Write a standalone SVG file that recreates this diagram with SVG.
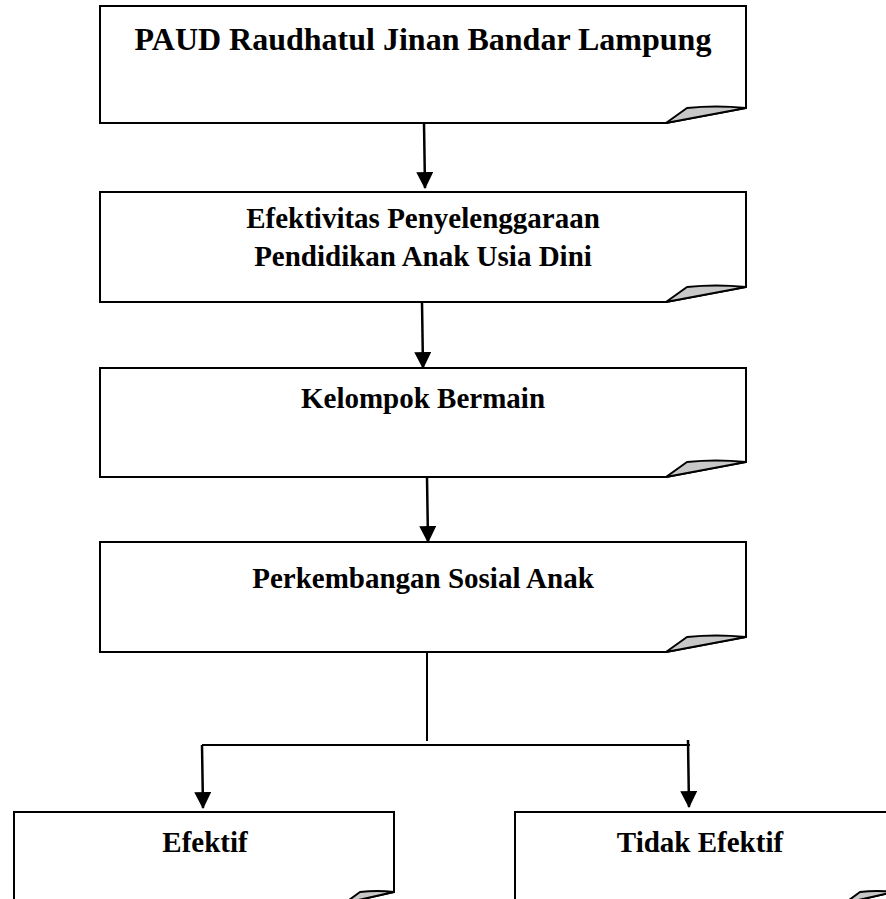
<svg xmlns="http://www.w3.org/2000/svg" width="886" height="899" viewBox="0 0 886 899">
<style>
.box{fill:#fff;stroke:#000;stroke-width:2;stroke-linejoin:miter}
.fold{fill:#c8c8c8;stroke:#000;stroke-width:2;stroke-linejoin:round}
.t{font-family:"Liberation Serif","Times New Roman",serif;font-weight:bold;font-size:29px;fill:#000;text-anchor:middle}
.arr{fill:none;stroke:#000;stroke-width:2.5;marker-end:url(#ah)}
.ln{fill:none;stroke:#000;stroke-width:2}
</style>
<defs>
<marker id="ah" markerUnits="userSpaceOnUse" markerWidth="17" markerHeight="17" viewBox="0 0 16 16" refX="15" refY="8" orient="auto">
<path d="M0,0 L16,8 L0,16 Z" fill="#000"/>
</marker>
</defs>
<rect width="886" height="899" fill="#fff"/>
<g id="connectors">
<line class="arr" x1="424" y1="123" x2="425" y2="188"/>
<line class="arr" x1="422" y1="302" x2="423" y2="368"/>
<line class="arr" x1="427" y1="477" x2="428" y2="542"/>
<line class="ln" x1="427" y1="652" x2="427" y2="741" stroke-width="1.6"/>
<line class="ln" x1="202" y1="745" x2="690" y2="745"/>
<line class="arr" x1="202" y1="745" x2="203" y2="808"/>
<line class="arr" x1="688" y1="740" x2="689" y2="807"/>
</g>
<g id="node1">
<path class="box" d="M100,6 H746 V108 L666,123 H100 Z"/>
<path class="fold" d="M666,123 L687,108 Q716,105 746,108 Z"/>
<text class="t" x="423" y="50" style="font-size:32px">PAUD Raudhatul Jinan Bandar Lampung</text>
</g>
<g id="node2">
<path class="box" d="M100,192 H746 V287 L666,302 H100 Z"/>
<path class="fold" d="M666,302 L687,287 Q716,284 746,287 Z"/>
<text class="t" x="423" y="228">Efektivitas Penyelenggaraan</text>
<text class="t" x="423" y="266">Pendidikan Anak Usia Dini</text>
</g>
<g id="node3">
<path class="box" d="M100,368 H746 V462 L666,477 H100 Z"/>
<path class="fold" d="M666,477 L687,462 Q716,459 746,462 Z"/>
<text class="t" x="423" y="408">Kelompok Bermain</text>
</g>
<g id="node4">
<path class="box" d="M100,542 H746 V637 L666,652 H100 Z"/>
<path class="fold" d="M666,652 L687,637 Q716,634 746,637 Z"/>
<text class="t" x="423" y="588">Perkembangan Sosial Anak</text>
</g>
<g id="node5">
<path class="box" d="M14,812 H394 V892 L345,903 H14 Z"/>
<path class="fold" d="M345,903 L360,892 Q377,890 394,892 Z"/>
<text class="t" x="205" y="852">Efektif</text>
</g>
<g id="node6">
<path class="box" d="M515,812 H894 V892 L845,903 H515 Z"/>
<path class="fold" d="M845,903 L860,892 Q877,890 894,892 Z"/>
<text class="t" x="700" y="852">Tidak Efektif</text>
</g>
</svg>
